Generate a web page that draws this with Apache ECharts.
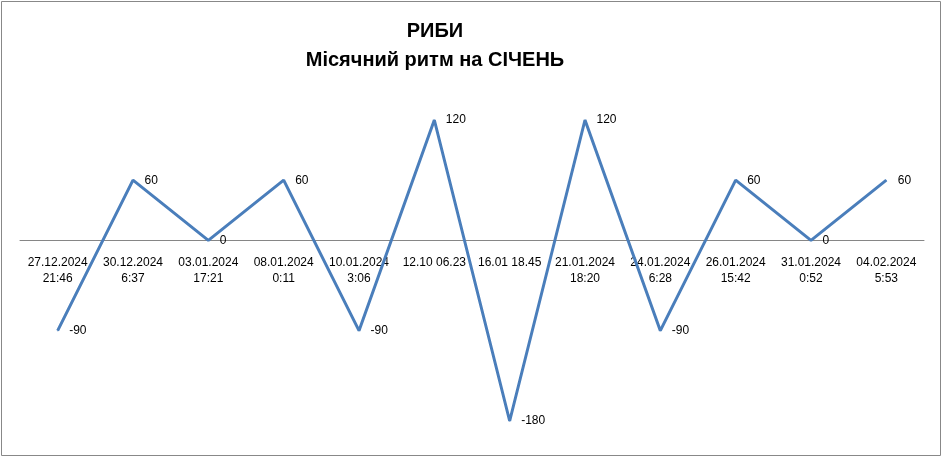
<!DOCTYPE html>
<html>
<head>
<meta charset="utf-8">
<script src="https://cdn.jsdelivr.net/npm/echarts@6/dist/echarts.min.js"></script>
<style>
    html, body { margin: 0; padding: 0; background: #fff; }
    #main { width: 944px; height: 457px; }
</style>
</head>
<body>
<div id="main"></div>
<script type="text/javascript">
    // дати / часи
    var categories = [
        '27.12.2024\n21:46', '30.12.2024\n6:37', '03.01.2024\n17:21', '08.01.2024\n0:11',
        '10.01.2024\n3:06', '12.10 06.23', '16.01 18.45', '21.01.2024\n18:20',
        '24.01.2024\n6:28', '26.01.2024\n15:42', '31.01.2024\n0:52', '04.02.2024\n5:53'
    ];
    // значення ритму
    var values = [-90, 60, 0, 60, -90, 120, -180, 120, -90, 60, 0, 60];

    var titleLines = ['РИБИ', 'Місячний ритм на СІЧЕНЬ'];

    var myChart = echarts.init(document.getElementById('main'));

    var option = {
        animation: false,
        backgroundColor: '#fff',
        textStyle: { fontFamily: 'Liberation Sans' },
        title: {
            text: titleLines.join('\n'),
            left: 430,
            top: 12,
            textAlign: 'center',
            textStyle: {
                fontFamily: 'Liberation Sans',
                fontSize: 20,
                fontWeight: 'bold',
                lineHeight: 29,
                color: '#000'
            }
        },
        graphic: [{
            type: 'rect',
            shape: { x: 1.5, y: 1.5, width: 939, height: 454 },
            style: { fill: 'none', stroke: '#888', lineWidth: 1 },
            silent: true
        }],
        grid: { left: 20, right: 20, top: 120, bottom: 36, outerBoundsMode: 'none' },
        xAxis: {
            type: 'category',
            data: categories,
            boundaryGap: true,
            // вісь на рівні нуля: 421 - 240
            offset: -181,
            axisLine: { onZero: false, lineStyle: { color: '#868686', width: 1 } },
            axisTick: { show: false },
            axisLabel: {
                interval: 0,
                margin: 15,
                color: '#000',
                fontSize: 12,
                lineHeight: 16,
                fontFamily: 'Liberation Sans'
            }
        },
        yAxis: {
            type: 'value',
            min: -180,
            max: 120,
            show: false,
            splitLine: { show: false }
        },
        series: [{
            type: 'line',
            data: values,
            symbol: 'circle',
            symbolSize: 1,
            showSymbol: true,
            itemStyle: { color: '#4a7ebb' },
            lineStyle: { color: '#4a7ebb', width: 3 },
            labelLayout: { hideOverlap: false },
            label: {
                show: true,
                position: 'right',
                distance: 11,
                offset: [0, 1],
                color: '#000',
                fontSize: 12,
                fontFamily: 'Liberation Sans'
            }
        }]
    };
    myChart.setOption(option);
</script>
</body>
</html>
